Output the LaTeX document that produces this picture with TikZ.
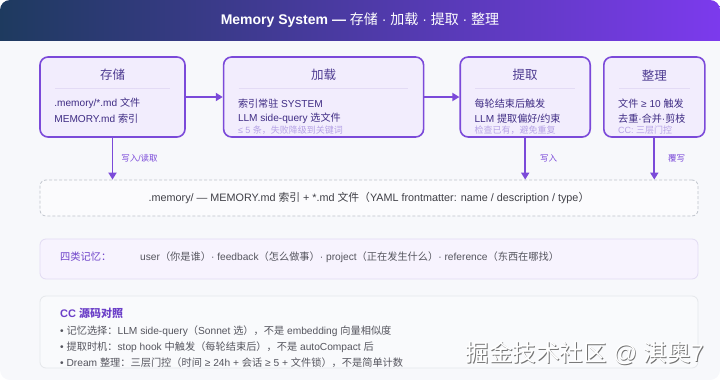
\documentclass[tikz,border=0pt]{standalone}
\usepackage{fontspec}
\setmainfont{Liberation Sans}
\newfontfamily\cjkfont{Noto Sans CJK SC}
\XeTeXinterchartokenstate=1
\newXeTeXintercharclass\cjkclass
\newcount\cjkcode
\def\markcjk#1#2{\cjkcode=#1\relax
  \loop\XeTeXcharclass\cjkcode=\cjkclass\ifnum\cjkcode<#2\advance\cjkcode by 1\repeat}
\markcjk{"3000}{"303F}
\markcjk{"4E00}{"9FFF}
\markcjk{"FF00}{"FFEF}
\XeTeXcharclass"00B7=0
\XeTeXcharclass"2014=0
\XeTeXcharclass"2022=0
\XeTeXcharclass"2264=0
\XeTeXcharclass"2265=0
\XeTeXinterchartoks 0 \cjkclass={\begingroup\cjkfont}
\XeTeXinterchartoks 4095 \cjkclass={\begingroup\cjkfont}
\XeTeXinterchartoks \cjkclass 0={\endgroup}
\XeTeXinterchartoks \cjkclass 4095={\endgroup}
\usepackage{xcolor}
\usepackage{tikz}
\usetikzlibrary{
  arrows.meta,
  positioning,
  calc
}
\definecolor{memNavy}{HTML}{1E3A5F}
\definecolor{memViolet}{HTML}{7C3AED}
\definecolor{memEdge}{HTML}{7B4AD9}
\definecolor{memFill}{HTML}{F2EDFD}
\definecolor{memDeep}{HTML}{3F2C84}
\definecolor{memHead}{HTML}{4D3B91}
\definecolor{memNote}{HTML}{B6A3E6}
\definecolor{memRule}{HTML}{E3DBF5}
\definecolor{memPage}{HTML}{F7F8FB}
\definecolor{memDash}{HTML}{BFC4CC}
\definecolor{memInk}{HTML}{3F3F46}
\definecolor{memGrey}{HTML}{55555E}
\definecolor{memKind}{HTML}{F7F3FE}
\definecolor{memKindEdge}{HTML}{E2DBF3}
\definecolor{memSrc}{HTML}{F9FAFC}
\definecolor{memSrcEdge}{HTML}{E5E7EB}
\definecolor{memLabel}{HTML}{6B3FC8}
\tikzset{
  memnode/.style={rounded corners=8pt, minimum height=80pt, inner sep=0pt},
  stagebox/.style={memnode, draw=memEdge, fill=memFill, line width=1.6pt},
  stagetitle/.style={font=\fontsize{12.5}{14}\selectfont, text=memHead, inner sep=0pt},
  stageline/.style={anchor=west, font=\fontsize{10.1}{12}\selectfont, text=memDeep, inner sep=0pt},
  stagenote/.style={anchor=west, font=\fontsize{9}{10}\selectfont, text=memNote, inner sep=0pt},
  seprule/.style={memRule, line width=0.8pt},
  flow/.style={-{Triangle[length=7pt, width=8pt]}, line width=1.7pt, memEdge},
  tag/.style={font=\fontsize{8.5}{10}\selectfont, text=memEdge, inner sep=0pt, anchor=west},
  shelfbox/.style={draw=memDash, dash pattern=on 3pt off 2pt, line width=0.8pt,
    rounded corners=6pt, fill=white!50!memPage, minimum width=658pt, minimum height=36pt,
    font=\fontsize{10.8}{12}\selectfont, text=memInk},
  kindbox/.style={draw=memKindEdge, fill=memKind, line width=0.8pt, rounded corners=6pt,
    minimum width=658pt, minimum height=40pt},
  srcbox/.style={draw=memSrcEdge, fill=memSrc, line width=0.8pt, rounded corners=6pt,
    minimum width=658pt, minimum height=72pt},
  plain/.style={anchor=west, inner sep=0pt, font=\fontsize{10.2}{12}\selectfont, text=memGrey},
  banner/.style={font=\fontsize{14}{16}\selectfont, text=white, inner sep=0pt},
  stamp/.style={anchor=east, inner sep=0pt, font=\fontsize{23.5}{25}\selectfont}
}

\begin{document}
\begin{tikzpicture}[x=1pt, y=-1pt]
  \useasboundingbox (0,0) rectangle (720,380);
  \fill[memPage, rounded corners=10pt] (0,0) rectangle (720,380);
  \shade[left color=memNavy, right color=memViolet, rounded corners=10pt] (0,0) rectangle (720,40);
  \shade[left color=memNavy, right color=memViolet] (0,20) rectangle (720,40);
  \node[banner] (title) at (360,20) {{\bfseries Memory System —} 存储 · 加载 · 提取 · 整理};

  \node[stagebox, minimum width=145pt] (store) at (112.5,97) {};
  \node[stagebox, minimum width=200pt, right=37pt of store] (load) {};
  \node[stagebox, minimum width=130pt, right=35pt of load] (extract) {};
  \node[stagebox, minimum width=101pt, right=12pt of extract] (tidy) {};

  \foreach \b/\t in {store/存储, load/加载, extract/提取, tidy/整理}{
    \node[stagetitle] (\b-t) at ($(\b.north)+(0,19)$) {\t};
    \draw[seprule] ($(\b.north west)+(16,32)$) -- ($(\b.north east)+(-16,32)$);
  }

  \node[stageline] (store-a) at ($(store.north west)+(15,47)$) {.memory/*.md 文件};
  \node[stageline] (store-b) at ($(store.north west)+(15,62)$) {MEMORY.md 索引};
  \node[stageline] (load-a) at ($(load.north west)+(15,47)$) {索引常驻 SYSTEM};
  \node[stageline] (load-b) at ($(load.north west)+(15,62)$) {LLM side-query 选文件};
  \node[stagenote] (load-c) at ($(load.north west)+(15,74)$) {≤ 5 条，失败降级到关键词};
  \node[stageline] (extract-a) at ($(extract.north west)+(15,47)$) {每轮结束后触发};
  \node[stageline] (extract-b) at ($(extract.north west)+(15,62)$) {LLM 提取偏好/约束};
  \node[stagenote] (extract-c) at ($(extract.north west)+(15,74)$) {检查已有，避免重复};
  \node[stageline] (tidy-a) at ($(tidy.north west)+(15,47)$) {文件 ≥ 10 触发};
  \node[stageline] (tidy-b) at ($(tidy.north west)+(15,62)$) {去重·合并·剪枝};
  \node[stagenote] (tidy-c) at ($(tidy.north west)+(15,74)$) {CC: 三层门控};

  \foreach \s/\e in {store/load, load/extract}{\draw[flow] (\s) -- (\e);}

  \node[shelfbox] (shelf) at (369,198) {.memory/ — MEMORY.md 索引 + *.md 文件（YAML frontmatter: name / description / type）};

  \draw[flow] (store.south) -- (store.south |- shelf.north) node[tag, midway, xshift=8pt] (store-w) {写入/读取};
  \draw[flow] (extract.south) -- (extract.south |- shelf.north) node[tag, midway, xshift=14pt] (extract-w) {写入};
  \draw[flow] (tidy.south) -- (tidy.south |- shelf.north) node[tag, midway, xshift=13pt] (tidy-w) {覆写};

  \node[kindbox] (kinds) at (369,259) {};
  \node[plain, text=memLabel] (kinds-l) at (60,257) {四类记忆：};
  \node[plain] (kinds-r) at (140,257) {user（你是谁）· feedback（怎么做事）· project（正在发生什么）· reference（东西在哪找）};

  \node[srcbox] (src) at (369,332) {};
  \node[plain, font=\fontsize{11}{13}\selectfont\bfseries, text=memLabel] (src-t) at (60,313) {CC 源码对照};
  \node[plain] (src-a) at (60,331) {• 记忆选择：LLM side-query（Sonnet 选），不是 embedding 向量相似度};
  \node[plain] (src-b) at (60,347) {• 提取时机：stop hook 中触发（每轮结束后），不是 autoCompact 后};
  \node[plain] (src-c) at (60,363) {• Dream 整理：三层门控（时间 ≥ 24h + 会话 ≥ 5 + 文件锁），不是简单计数};

  \node[stamp, text=black!55] (mark-s) at (704.8,353.8) {掘金技术社区 @ 淇奥7};
  \node[stamp, text=white] (mark) at (704,353) {掘金技术社区 @ 淇奥7};
\end{tikzpicture}
\end{document}
